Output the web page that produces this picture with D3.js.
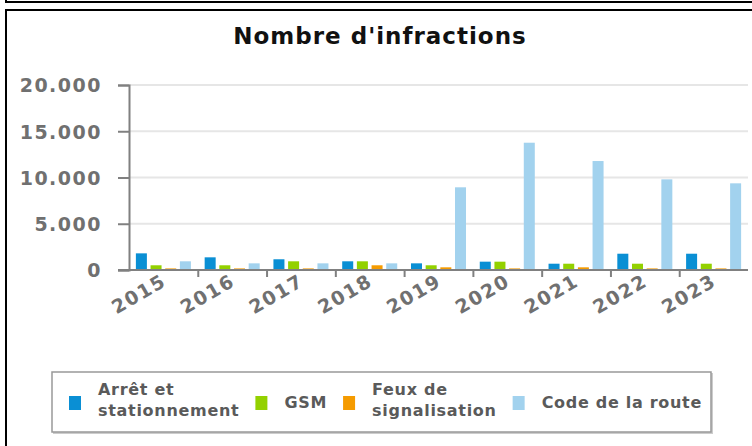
<!DOCTYPE html>
<html>
<head>
<meta charset="utf-8">
<script src="https://cdn.jsdelivr.net/npm/d3@7/dist/d3.min.js"></script>
<style>
  body { margin: 0; background: #fff; }
  svg { display: block; font-family: "DejaVu Sans", sans-serif; font-weight: bold; }
</style>
</head>
<body>
<div id="chart"></div>
<script>
// data
const years = ['2015', '2016', '2017', '2018', '2019', '2020', '2021', '2022', '2023'];
const arret = [1800, 1370, 1160, 940, 720, 900, 680, 1760, 1760];
const gsm = [510, 510, 940, 940, 510, 900, 680, 680, 680];
const feux = [170, 170, 170, 510, 290, 170, 290, 170, 170];
const code = [940, 720, 720, 720, 8940, 13760, 11780, 9800, 9370];
const seriesNames = [['Arrêt et', 'stationnement'], ['GSM'], ['Feux de', 'signalisation'], ['Code de la route']];
const colors = ['#0a8fd4', '#93d100', '#f59b00', '#a2d2ee'];
const yTicks = [0, 5000, 10000, 15000, 20000];

const W = 752, H = 446;
const series = [arret, gsm, feux, code];

const svg = d3.select('#chart').append('svg')
  .attr('width', W).attr('height', H);

// frames
svg.append('path').attr('d', 'M6,0V2H752').attr('fill', 'none').attr('stroke', '#000').attr('stroke-width', 2);
svg.append('path').attr('d', 'M6,446V10H752').attr('fill', 'none').attr('stroke', '#000').attr('stroke-width', 2);

svg.append('text')
  .attr('x', 380).attr('y', 44)
  .attr('text-anchor', 'middle')
  .attr('font-size', 23).attr('letter-spacing', 1)
  .attr('fill', '#111')
  .text("Nombre d'infractions");

const x0 = d3.scaleBand().domain(years).range([129, 748]).paddingInner(0.2).paddingOuter(0.1);
const x1 = d3.scaleBand().domain(d3.range(4)).range([0, x0.bandwidth()]).paddingInner(0.25);
const y = d3.scaleLinear().domain([0, 20000]).range([270, 85]);

const fmt = d3.formatLocale({ decimal: ',', thousands: '.', grouping: [3], currency: ['', '€'] }).format(',');

// grid
svg.append('g').selectAll('line').data(yTicks.slice(1)).join('line')
  .attr('x1', 129).attr('x2', 748)
  .attr('y1', d => y(d)).attr('y2', d => y(d))
  .attr('stroke', '#e6e6e6').attr('stroke-width', 2);

// bars
const groups = svg.append('g').selectAll('g').data(years).join('g')
  .attr('transform', d => `translate(${x0(d)},0)`);
groups.selectAll('rect').data((d, i) => series.map((s, k) => ({ k, v: s[i] }))).join('rect')
  .attr('x', d => x1(d.k))
  .attr('width', x1.bandwidth())
  .attr('y', d => y(d.v))
  .attr('height', d => y(0) - y(d.v))
  .attr('fill', d => colors[d.k]);

// y axis
const yAxis = svg.append('g')
  .attr('transform', 'translate(129,0)')
  .call(d3.axisLeft(y).tickValues(yTicks).tickFormat(fmt).tickSize(11).tickPadding(16));
yAxis.select('.domain').attr('stroke', '#808080').attr('stroke-width', 2);
yAxis.selectAll('.tick line').attr('stroke', '#808080').attr('stroke-width', 2);
yAxis.selectAll('.tick text')
  .attr('font-size', 19).attr('letter-spacing', 1.5)
  .attr('font-family', 'DejaVu Sans').attr('font-weight', 'bold')
  .attr('fill', '#707070').attr('dy', '0.36em');

// x axis
const xAxis = svg.append('g')
  .attr('transform', 'translate(0,270)')
  .call(d3.axisBottom(d3.scaleLinear().domain([0, years.length]).range([129, 129 + x0.step() * years.length]))
    .tickValues(d3.range(1, years.length)).tickSize(7).tickFormat(''));
xAxis.select('.domain').remove();
xAxis.append('line').attr('x1', 118).attr('x2', 748).attr('stroke', '#808080').attr('stroke-width', 2);
xAxis.selectAll('.tick line').attr('stroke', '#808080').attr('stroke-width', 2);

svg.append('g').selectAll('text').data(years).join('text')
  .attr('transform', d => `translate(${x0(d) + x0.bandwidth() / 2 + 4},285) rotate(-30)`)
  .attr('text-anchor', 'end')
  .attr('font-size', 19).attr('letter-spacing', 1.5)
  .attr('fill', '#707070')
  .text(d => d);

// legend
const legend = svg.append('g');
legend.append('rect')
  .attr('x', 53).attr('y', 373).attr('width', 660).attr('height', 61)
  .attr('fill', '#ccc');
legend.append('rect')
  .attr('x', 52).attr('y', 372).attr('width', 659).attr('height', 60)
  .attr('fill', '#fff').attr('stroke', '#999').attr('stroke-width', 1.5);

let lx = 69;
seriesNames.forEach((lines, k) => {
  legend.append('rect')
    .attr('x', lx).attr('y', 396).attr('width', 12).attr('height', 14)
    .attr('fill', colors[k]);
  const t = legend.append('text')
    .attr('x', lx + 29)
    .attr('y', lines.length > 1 ? 395 : 408)
    .attr('font-size', 16).attr('letter-spacing', 0.7)
    .attr('fill', '#5a5a5a');
  lines.forEach((ln, j) => {
    t.append('tspan').attr('x', lx + 29).attr('dy', j ? 21 : 0).text(ln);
  });
  const w = d3.max(t.selectAll('tspan').nodes(), n => n.getComputedTextLength());
  lx = lx + 29 + w + 16;
});
</script>
</body>
</html>
